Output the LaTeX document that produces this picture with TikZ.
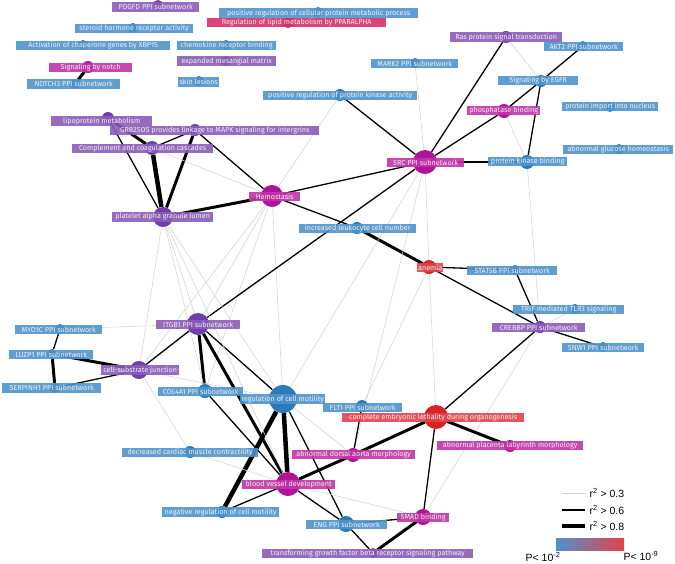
\documentclass[tikz,border=0pt]{standalone}
\usepackage{fontspec}
\setmainfont{Fira Sans}
\newfontfamily\legendfont{Liberation Sans}
\definecolor{BoxBlue}{HTML}{4E93CC}
\definecolor{DotBlue}{HTML}{2B7BBA}
\definecolor{BoxPurple}{HTML}{8A5CB7}
\definecolor{DotPurple}{HTML}{6E3FA8}
\definecolor{BoxMag}{HTML}{C234A8}
\definecolor{DotMag}{HTML}{AE139A}
\definecolor{BoxPink}{HTML}{D92E6C}
\definecolor{DotPink}{HTML}{C4175B}
\definecolor{BoxRed}{HTML}{E2434B}
\definecolor{DotRed}{HTML}{DD1F26}
\pgfdeclarelayer{edges}
\pgfdeclarelayer{labels}
\pgfsetlayers{edges,main,labels}

\begin{document}
\begin{tikzpicture}[x=1pt, y=-1pt, every node/.style={font=\fontsize{7.2}{8}\selectfont},
  dot/.style={circle,fill=#1,inner sep=0pt},
  lab/.style={anchor=west,fill=#1,fill opacity=0.9,text opacity=1,text=white!94!black,inner sep=0pt,minimum height=9.5pt},
  weak/.style={draw=black!17,line width=0.55pt},
  mid/.style={draw=black,line width=1.3pt},
  strong/.style={draw=black,line width=3pt},
  vstrong/.style={draw=black,line width=4.5pt}]
\useasboundingbox (0,0) rectangle (675,563);

% term nodes
\node[dot=DotPurple,minimum size=10pt] (pdgfd) at (158,5) {};
\node[dot=DotBlue,minimum size=10pt] (cellprot) at (318,12) {};
\node[dot=DotPink,minimum size=10pt] (ppara) at (288,23) {};
\node[dot=DotBlue,minimum size=10pt] (steroid) at (133,28) {};
\node[dot=DotBlue,minimum size=10pt] (xbp) at (83,45) {};
\node[dot=DotBlue,minimum size=10pt] (chemok) at (226,45) {};
\node[dot=DotPurple,minimum size=10pt] (mesang) at (226,61) {};
\node[dot=DotMag,minimum size=12pt] (notch) at (88,67) {};
\node[dot=DotBlue,minimum size=10pt] (notchthree) at (75,84) {};
\node[dot=DotBlue,minimum size=10pt] (skin) at (199,81) {};
\node[dot=DotBlue,minimum size=10pt] (marktwo) at (415,63) {};
\node[dot=DotPurple,minimum size=12pt] (ras) at (506,37) {};
\node[dot=DotBlue,minimum size=10pt] (akttwo) at (583,46) {};
\node[dot=DotBlue,minimum size=12pt] (egfr) at (541,81) {};
\node[dot=DotBlue,minimum size=12pt] (pkact) at (340,95) {};
\node[dot=DotBlue,minimum size=10pt] (nucleus) at (610,107) {};
\node[dot=DotMag,minimum size=14pt] (phos) at (504,111) {};
\node[dot=DotPurple,minimum size=12pt] (lipo) at (108,118) {};
\node[dot=DotPurple,minimum size=12pt] (grb) at (195,130) {};
\node[dot=DotPurple,minimum size=14pt] (compl) at (152,148) {};
\node[dot=DotBlue,minimum size=10pt] (glucose) at (619,149) {};
\node[dot=DotMag,minimum size=24pt] (src) at (425,162) {};
\node[dot=DotBlue,minimum size=14pt] (pkbind) at (527,162) {};
\node[dot=DotMag,minimum size=22pt] (hemo) at (272,196) {};
\node[dot=DotPurple,minimum size=20pt] (platelet) at (163,217) {};
\node[dot=DotBlue,minimum size=12pt] (leuko) at (357,228) {};
\node[dot=DotRed,minimum size=14pt] (anemia) at (429,267) {};
\node[dot=DotBlue,minimum size=10pt] (stat) at (515,270) {};
\node[dot=DotBlue,minimum size=10pt] (trif) at (575,309) {};
\node[dot=DotPurple,minimum size=22pt] (itgb) at (198,324) {};
\node[dot=DotBlue,minimum size=10pt] (myo) at (60,329) {};
\node[dot=DotPurple,minimum size=12pt] (crebbp) at (540,327) {};
\node[dot=DotBlue,minimum size=10pt] (snw) at (603,347) {};
\node[dot=DotBlue,minimum size=10pt] (luzp) at (52,354) {};
\node[dot=DotPurple,minimum size=18pt] (junction) at (139,370) {};
\node[dot=DotBlue,minimum size=10pt] (serpin) at (55,388) {};
\node[dot=DotBlue,minimum size=14pt] (col) at (205,391) {};
\node[dot=DotBlue,minimum size=28pt] (motil) at (283,399) {};
\node[dot=DotBlue,minimum size=12pt] (flt) at (362,406) {};
\node[dot=DotRed,minimum size=24pt] (lethal) at (436,417) {};
\node[dot=DotMag,minimum size=12pt] (placenta) at (510,446) {};
\node[dot=DotBlue,minimum size=12pt] (cardiac) at (190,452) {};
\node[dot=DotMag,minimum size=14pt] (aorta) at (353,455) {};
\node[dot=DotMag,minimum size=24pt] (vessel) at (288,484) {};
\node[dot=DotBlue,minimum size=12pt] (negmotil) at (222,512) {};
\node[dot=DotMag,minimum size=16pt] (smad) at (423,517) {};
\node[dot=DotBlue,minimum size=16pt] (eng) at (346,524) {};
\node[dot=DotPurple,minimum size=10pt] (tgfb) at (373,553) {};

% labels
\begin{pgfonlayer}{labels}
\node[lab=BoxPurple,minimum width=87pt] at (112,7) {PDGFD PPI subnetwork};
\node[lab=BoxBlue,minimum width=199pt] at (219,13) {positive regulation of cellular protein metabolic process};
\node[lab=BoxPink,minimum width=179pt] at (207,22.5) {Regulation of lipid metabolism by PPARALPHA};
\node[lab=BoxBlue,minimum width=118pt] at (75,28.5) {steroid hormone receptor activity};
\node[lab=BoxBlue,minimum width=154pt] at (16,45.5) {Activation of chaperone genes by XBP1S};
\node[lab=BoxBlue,minimum width=99pt] at (177,45.5) {chemokine receptor binding};
\node[lab=BoxPurple,minimum width=99pt] at (177,61) {expanded mesangial matrix};
\node[lab=BoxMag,minimum width=83pt] at (49,67.5) {Signaling by notch};
\node[lab=BoxBlue,minimum width=93pt] at (27,84) {NOTCH3 PPI subnetwork};
\node[lab=BoxBlue,minimum width=41pt] at (178,82) {skin lesions};
\node[lab=BoxBlue,minimum width=87pt] at (371,63.5) {MARK2 PPI subnetwork};
\node[lab=BoxPurple,minimum width=112pt] at (450,37) {Ras protein signal transduction};
\node[lab=BoxBlue,minimum width=79pt] at (544,46.5) {AKT2 PPI subnetwork};
\node[lab=BoxBlue,minimum width=80pt] at (498,80.5) {Signaling by EGFR};
\node[lab=BoxBlue,minimum width=154pt] at (263,95.5) {positive regulation of protein kinase activity};
\node[lab=BoxBlue,minimum width=96pt] at (562,106.5) {protein import into nucleus};
\node[lab=BoxMag,minimum width=73pt] at (467,110.5) {phosphatase binding};
\node[lab=BoxPurple,minimum width=101pt] at (51,121) {lipoprotein metabolism};
\node[lab=BoxPurple,minimum width=209pt] at (110,130.5) {GRB2SOS provides linkage to MAPK signaling for intergrins};
\node[lab=BoxPurple,minimum width=141pt] at (72,148.5) {Complement and coagulation cascades};
\node[lab=BoxBlue,minimum width=110pt] at (563,149.5) {abnormal glucose homeostasis};
\node[lab=BoxMag,minimum width=77pt] at (387,162.5) {SRC PPI subnetwork};
\node[lab=BoxBlue,minimum width=79pt] at (488,161.5) {protein kinase binding};
\node[lab=BoxMag,minimum width=51pt] at (249,196.5) {Hemostasis};
\node[lab=BoxPurple,minimum width=101pt] at (112,217) {platelet alpha granule lumen};
\node[lab=BoxBlue,minimum width=117pt] at (299,228.5) {increased leukocyte cell number};
\node[lab=BoxRed,minimum width=26pt] at (417,267.5) {anemia};
\node[lab=BoxBlue,minimum width=90pt] at (467,270.5) {STAT5B PPI subnetwork};
\node[lab=BoxBlue,minimum width=111pt] at (513,309.5) {TRIF mediated TLR3 signaling};
\node[lab=BoxPurple,minimum width=84pt] at (156,324.5) {ITGB1 PPI subnetwork};
\node[lab=BoxBlue,minimum width=87pt] at (15,329.5) {MYO1C PPI subnetwork};
\node[lab=BoxPurple,minimum width=93pt] at (492,327.5) {CREBBP PPI subnetwork};
\node[lab=BoxBlue,minimum width=82pt] at (562,347.5) {SNW1 PPI subnetwork};
\node[lab=BoxBlue,minimum width=84pt] at (9,354.5) {LUZP1 PPI subnetwork};
\node[lab=BoxPurple,minimum width=78pt] at (101,370) {cell-substrate junction};
\node[lab=BoxBlue,minimum width=99pt] at (2,388) {SERPINH1 PPI subnetwork};
\node[lab=BoxBlue,minimum width=85pt] at (158,391.5) {COL4A1 PPI subnetwork};
\node[lab=BoxBlue,minimum width=85pt] at (240,399) {regulation of cell motility};
\node[lab=BoxBlue,minimum width=79pt] at (323,407.5) {FLT1 PPI subnetwork};
\node[lab=BoxRed,minimum width=182pt] at (342,417.5) {complete embryonic lethality during organogenesis};
\node[lab=BoxMag,minimum width=146pt] at (437,445.5) {abnormal placenta labyrinth morphology};
\node[lab=BoxBlue,minimum width=136pt] at (122,452.5) {decreased cardiac muscle contractility};
\node[lab=BoxMag,minimum width=123pt] at (292,454.5) {abnormal dorsal aorta morphology};
\node[lab=BoxMag,minimum width=93pt] at (242,484.5) {blood vessel development};
\node[lab=BoxBlue,minimum width=117pt] at (162,512) {negative regulation of cell motility};
\node[lab=BoxMag,minimum width=52pt] at (397,517.5) {SMAD binding};
\node[lab=BoxBlue,minimum width=81pt] at (306,524.5) {ENG PPI subnetwork};
\node[lab=BoxPurple,minimum width=211pt] at (262,553.5) {transforming growth factor beta receptor signaling pathway};
\end{pgfonlayer}

% links
\begin{pgfonlayer}{edges}
\draw[strong] (notch) -- (notchthree);
\draw[strong] (lipo) -- (compl);
\draw[mid] (lipo) -- (platelet);
\draw[mid] (compl) -- (grb);
\draw[vstrong] (compl) -- (platelet);
\draw[strong] (grb) -- (platelet);
\draw[mid] (grb) -- (hemo);
\draw[strong] (platelet) -- (hemo);
\draw[weak] (compl) -- (hemo);
\draw[mid] (hemo) -- (src);
\draw[mid] (hemo) -- (leuko);
\draw[strong] (leuko) -- (anemia);
\draw[weak] (hemo) -- (pkact);
\draw[weak] (hemo) -- (itgb);
\draw[weak] (hemo) -- (junction);
\draw[weak] (hemo) -- (motil);
\draw[weak] (hemo) -- (col);
\draw[mid] (src) -- (pkact);
\draw[mid] (src) -- (ras);
\draw[mid] (src) -- (phos);
\draw[mid] (phos) -- (egfr);
\draw[mid] (egfr) -- (akttwo);
\draw[mid] (egfr) -- (pkbind);
\draw[mid] (src) -- (pkbind);
\draw[weak] (ras) -- (egfr);
\draw[weak] (phos) -- (pkbind);
\draw[weak] (src) -- (marktwo);
\draw[mid] (src) -- (itgb);
\draw[weak] (src) -- (anemia);
\draw[weak] (src) -- (motil);
\draw[weak] (src) -- (aorta);
\draw[weak] (pkbind) -- (crebbp);
\draw[mid] (anemia) -- (stat);
\draw[mid] (anemia) -- (crebbp);
\draw[weak] (anemia) -- (lethal);
\draw[weak] (anemia) -- (flt);
\draw[mid] (crebbp) -- (stat);
\draw[mid] (crebbp) -- (snw);
\draw[weak] (crebbp) -- (trif);
\draw[mid] (crebbp) -- (lethal);
\draw[weak] (crebbp) -- (smad);
\draw[strong] (lethal) -- (placenta);
\draw[strong] (lethal) -- (aorta);
\draw[strong] (aorta) -- (vessel);
\draw[mid] (lethal) -- (smad);
\draw[mid] (flt) -- (aorta);
\draw[strong] (smad) -- (tgfb);
\draw[mid] (smad) -- (eng);
\draw[mid] (eng) -- (tgfb);
\draw[mid] (eng) -- (vessel);
\draw[mid] (eng) -- (motil);
\draw[vstrong] (vessel) -- (motil);
\draw[vstrong] (motil) -- (negmotil);
\draw[mid] (vessel) -- (negmotil);
\draw[weak] (vessel) -- (smad);
\draw[strong] (itgb) -- (vessel);
\draw[mid] (col) -- (vessel);
\draw[mid] (itgb) -- (motil);
\draw[strong] (itgb) -- (col);
\draw[mid] (itgb) -- (junction);
\draw[strong] (junction) -- (luzp);
\draw[mid] (junction) -- (serpin);
\draw[mid] (luzp) -- (myo);
\draw[strong] (luzp) -- (serpin);
\draw[weak] (myo) -- (itgb);
\draw[weak] (junction) -- (cardiac);
\draw[weak] (cardiac) -- (vessel);
\draw[weak] (junction) -- (motil);
\draw[weak] (motil) -- (aorta);
\draw[weak] (platelet) -- (itgb);
\draw[weak] (platelet) -- (junction);
\draw[weak] (platelet) -- (col);
\draw[weak] (platelet) -- (motil);
\draw[weak] (platelet) -- (vessel);
\end{pgfonlayer}

% legend
\draw[weak] (562,493) -- ++(23,0);
\draw[mid] (562,510) -- ++(23,0);
\draw[vstrong] (562,526) -- ++(23,0);
\node[anchor=west,font=\legendfont\fontsize{10.5}{11}\selectfont] (rlow) at (586,493) {r\textsuperscript{2} > 0.3};
\node[anchor=west,font=\legendfont\fontsize{10.5}{11}\selectfont] (rmid) at (586,510) {r\textsuperscript{2} > 0.6};
\node[anchor=west,font=\legendfont\fontsize{10.5}{11}\selectfont] (rhigh) at (586,526) {r\textsuperscript{2} > 0.8};
\shade[left color=BoxBlue,middle color=BoxMag,right color=BoxRed] (556,538) rectangle (624,550);
\node[anchor=east,font=\legendfont\fontsize{10.5}{11}\selectfont] (plow) at (564,557) {P< 10\textsuperscript{-2}};
\node[anchor=west,font=\legendfont\fontsize{10.5}{11}\selectfont] (phigh) at (620,556) {P< 10\textsuperscript{-9}};
\end{tikzpicture}
\end{document}
